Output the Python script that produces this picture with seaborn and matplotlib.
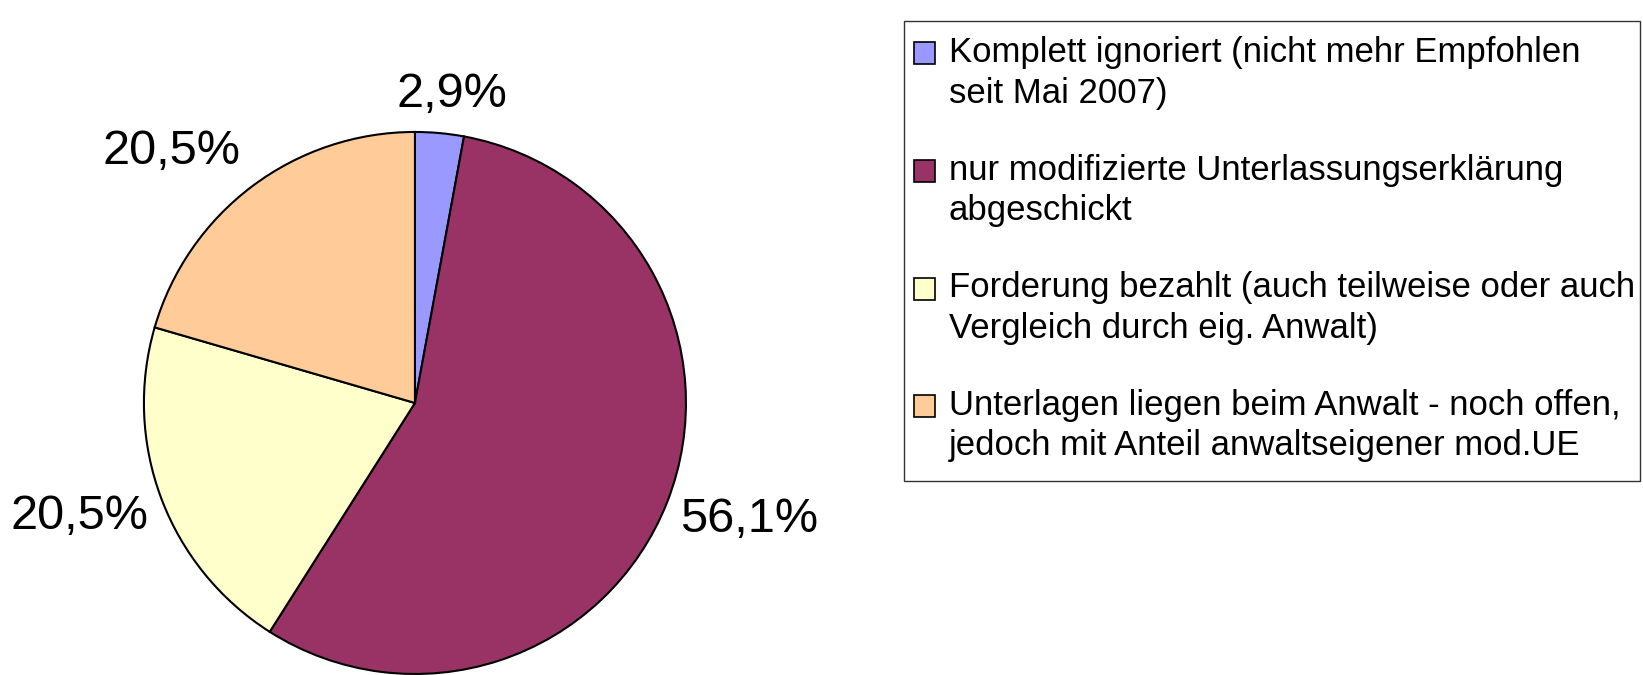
import numpy as np
import matplotlib
matplotlib.use("Agg")
import matplotlib.pyplot as plt
from matplotlib.patches import Rectangle, Wedge
from matplotlib.legend_handler import HandlerPatch
import seaborn as sns

# data
categories = [
    "Komplett ignoriert (nicht mehr Empfohlen\nseit Mai 2007)",
    "nur modifizierte Unterlassungserklärung\nabgeschickt",
    "Forderung bezahlt (auch teilweise oder auch\nVergleich durch eig. Anwalt)",
    "Unterlagen liegen beim Anwalt - noch offen,\njedoch mit Anteil anwaltseigener mod.UE",
]
shares = [2.9, 56.1, 20.5, 20.5]
value_labels = ["2,9%", "56,1%", "20,5%", "20,5%"]
colors = ["#9999FF", "#993366", "#FFFFCC", "#FFCC99"]

sns.set_style("white")
plt.rcParams["font.family"] = ["Liberation Sans", "DejaVu Sans"]
plt.rcParams["text.color"] = "black"

fig = plt.figure(figsize=(16.43, 6.75), dpi=100)
ax = fig.add_axes([0.0876, 0.0015, 0.3299, 0.803])

palette = sns.color_palette(colors)
wedges, _ = ax.pie(shares, colors=palette, startangle=90, counterclock=False,
                   wedgeprops=dict(edgecolor="black", linewidth=1.5))
ax.set_xlim(-1, 1)
ax.set_ylim(-1, 1)
ax.set_aspect("equal")

# value labels: the corner of the label nearest the pie sits on the wedge's mid ray
for w, lab in zip(wedges, value_labels):
    theta = np.deg2rad((w.theta1 + w.theta2) / 2)
    c, s = np.cos(theta), np.sin(theta)
    ha = "left" if c > 0.3 else ("right" if c < -0.3 else "center")
    if s > 0:
        x, y = 1.07 * c, 1.07 * s + 0.025
        va = "baseline"
    else:
        x, y = 1.05 * c, 1.05 * s + 0.035
        va = "top"
    if ha == "center":
        x += 0.04
    ax.text(x, y, lab, ha=ha, va=va, fontsize=35, clip_on=False)


# legend squares sit on the first line of each two-line entry
def first_line_patch(legend, orig_handle, xdescent, ydescent, width, height, fontsize):
    return Rectangle((-xdescent, -ydescent + 14.6), width, height)


leg = fig.legend(wedges, categories, loc="upper left",
                 bbox_to_anchor=(914 / 1643, 1 - 36 / 675),
                 fontsize=25, frameon=False,
                 handlelength=0.6, handleheight=0.6, handletextpad=0.4,
                 labelspacing=1.27, borderpad=0, borderaxespad=0,
                 handler_map={Wedge: HandlerPatch(patch_func=first_line_patch)})
for t in leg.get_texts():
    t.set_linespacing(1.29)
for h in leg.legend_handles:
    h.set_linewidth(1.2)
    h.set_edgecolor("black")

# legend frame
fig.patches.append(Rectangle((904 / 1643, 1 - 481 / 675), 736 / 1643, 460 / 675,
                             transform=fig.transFigure, fill=False,
                             edgecolor="#333333", linewidth=1.0))

fig.savefig("out.png", dpi=100)
